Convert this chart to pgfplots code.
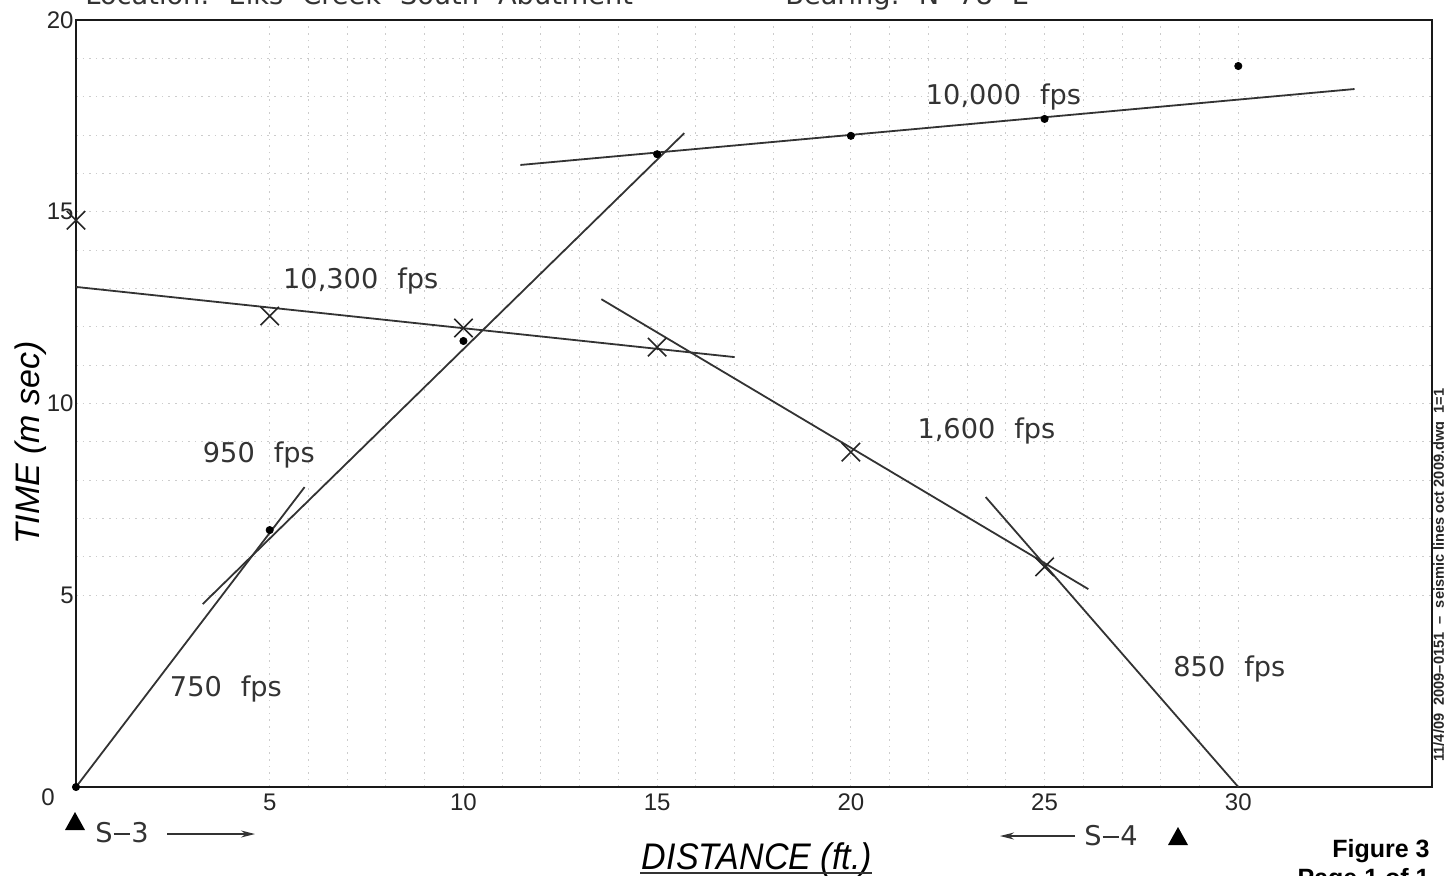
\documentclass[border=0pt]{standalone}
\usepackage{fontspec}
\setmainfont{Liberation Sans}
\newfontfamily\cad{DejaVu Sans}
\usepackage{pgfplots}
\pgfplotsset{compat=1.18}
\usetikzlibrary{arrows.meta}
\newcommand\g{\hspace{9.5pt}}
\tikzset{lab/.style={font=\cad\fontsize{13.6}{16}\selectfont, text=black!80}}
\begin{document}
\begin{tikzpicture}
\useasboundingbox (-38pt,-44pt) rectangle (684pt,393.5pt);
\begin{axis}[
  at={(0,0)}, anchor=south west,
  scale only axis, width=678pt, height=383.5pt,
  xmin=0, xmax=35, ymin=0, ymax=20,
  axis line style={line width=1.4pt, black!90},
  xtick={5,10,...,30}, ytick={5,10,15,20},
  minor x tick num=4, minor y tick num=4,
  grid=both,
  major grid style={dash pattern=on 0.8pt off 2.5pt, black!20, line width=0.5pt},
  minor grid style={dash pattern=on 0.8pt off 2.5pt, black!20, line width=0.5pt},
  major tick length=0pt, minor tick length=0pt,
  tick label style={font=\fontsize{12}{14}\selectfont, black!85},
  /pgf/number format/assume math mode=true,
  yticklabel style={inner xsep=1pt},
  clip=false,
]
% fitted lines
\addplot[black!80, line width=0.9pt] coordinates {(0,0) (5.9,7.82)};
\addplot[black!80, line width=0.9pt] coordinates {(3.27,4.77) (15.7,17.05)};
\addplot[black!80, line width=0.9pt] coordinates {(0,13.04) (17.0,11.21)};
\addplot[black!80, line width=0.9pt] coordinates {(11.47,16.22) (33.0,18.2)};
\addplot[black!80, line width=0.9pt] coordinates {(13.56,12.72) (26.13,5.16)};
\addplot[black!80, line width=0.9pt] coordinates {(23.48,7.56) (30,0)};
% dots
\addplot[only marks, mark=*, mark size=1.8pt, black] coordinates {
 (0,0) (5,6.70) (10,11.63) (15,16.5) (20,16.98) (25,17.42) (30,18.8)};
% crosses
\addplot[only marks, mark=x, mark size=6.5pt, black!85, line width=0.8pt] coordinates {
 (0,14.78) (5,12.28) (10,11.97) (15,11.47) (20,8.73) (25,5.74)};
% labels
\node[lab] at (axis cs:23.94,17.99) {10,000\g fps};
\node[lab] at (axis cs:7.35,13.19) {10,300\g fps};
\node[lab] at (axis cs:4.72,8.66) {950\g fps};
\node[lab] at (axis cs:3.87,2.56) {750\g fps};
\node[lab] at (axis cs:23.5,9.28) {1,600\g fps};
\node[lab] at (axis cs:29.77,3.08) {850\g fps};
\end{axis}
% outside texts
\node[font=\fontsize{12}{14}\selectfont, text=black!85] at (-14pt,-5pt) {0};
\node[rotate=90, font=\itshape\fontsize{17}{20}\selectfont] at (-22.5pt,172pt) {TIME (m sec)};
\node[xscale=0.92, font=\itshape\fontsize{18.5}{22}\selectfont] at (340.5pt,-36.5pt) {DISTANCE (ft.)};
\draw[line width=1.2pt, black!80] (282pt,-43pt) -- (398pt,-43pt);
\node[anchor=base east, inner sep=0pt, font=\bfseries\fontsize{12.5}{15}\selectfont] at (677pt,-35pt) {Figure 3};
\node[anchor=base east, inner sep=0pt, font=\bfseries\fontsize{12.5}{15}\selectfont] at (677pt,-49.5pt) {Page 1 of 1};
\node[rotate=90, font=\bfseries\fontsize{7.3}{9}\selectfont, text=black!85] at (682pt,106pt) {11/4/09\ \ 2009--0151\ \ --\ \ seismic\ lines\ oct\ 2009.dwg\ \ 1=1};
% top texts (cut by page edge)
\node[anchor=base west, inner sep=0pt, lab] at (4.5pt,391pt) {Location:\g Elks\g Creek\g South\g Abutment};
\node[anchor=base west, inner sep=0pt, lab] at (354.5pt,391pt) {Bearing:\g N\g 78\g E};
% station markers
\fill[black] (-5.5pt,-21.5pt) -- (4.5pt,-21.5pt) -- (-0.5pt,-12.5pt) -- cycle;
\node[lab] at (23pt,-23pt) {S\kern0.5pt\rule[0.3em]{0.62em}{0.06em}\kern0.5pt3};
\draw[black!80, line width=0.7pt, -{Stealth[length=7pt,width=3.5pt]}] (45.5pt,-23.5pt) -- (89.5pt,-23.5pt);
\draw[black!80, line width=0.7pt, -{Stealth[length=7pt,width=3.5pt]}] (499.5pt,-24.5pt) -- (462pt,-24.5pt);
\node[lab] at (517.5pt,-24.5pt) {S\kern0.5pt\rule[0.3em]{0.62em}{0.06em}\kern0.5pt4};
\fill[black] (546pt,-29pt) -- (556pt,-29pt) -- (551pt,-20pt) -- cycle;
\end{tikzpicture}
\end{document}
